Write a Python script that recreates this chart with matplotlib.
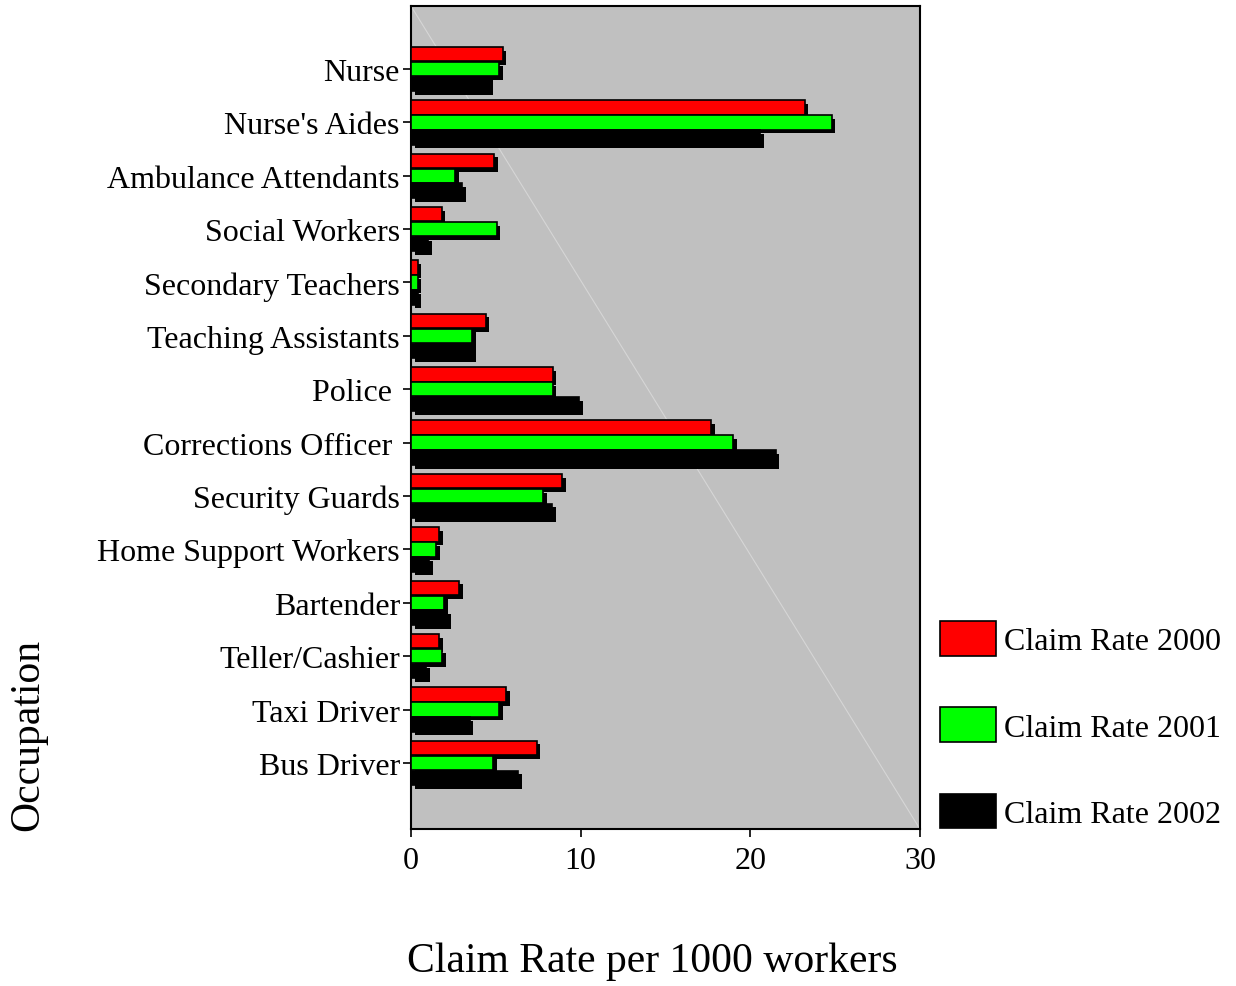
import numpy as np
import matplotlib
matplotlib.use('Agg')
from matplotlib import pyplot as plt
from matplotlib.patches import Rectangle

plt.rcParams['font.family'] = ['Liberation Serif', 'DejaVu Serif']

occupations = ['Nurse', "Nurse's Aides", 'Ambulance Attendants', 'Social Workers',
               'Secondary Teachers', 'Teaching Assistants', 'Police ',
               'Corrections Officer ', 'Security Guards', 'Home Support Workers',
               'Bartender', 'Teller/Cashier', 'Taxi Driver', 'Bus Driver']
rate_2000 = [5.4, 23.2, 4.9, 1.8, 0.4, 4.4, 8.35, 17.7, 8.9, 1.65, 2.85, 1.65, 5.6, 7.4]
rate_2001 = [5.2, 24.8, 2.6, 5.05, 0.4, 3.6, 8.35, 19.0, 7.8, 1.5, 1.95, 1.85, 5.2, 4.85]
rate_2002 = [4.6, 20.6, 3.0, 1.0, 0.4, 3.6, 9.9, 21.5, 8.3, 1.05, 2.15, 0.9, 3.45, 6.3]
series = [('Claim Rate 2000', rate_2000, '#ff0000'),
          ('Claim Rate 2001', rate_2001, '#00ff00'),
          ('Claim Rate 2002', rate_2002, '#000000')]

fig = plt.figure(figsize=(12.36, 9.87), dpi=100)
ax = fig.add_axes([0.3325, 0.159, 0.4118, 0.8339])
ax.set_facecolor('#c0c0c0')

y = np.arange(len(occupations))
h = 0.27
offsets = [-0.28, 0.0, 0.28]
sdx, sdy = 0.22, 0.07

for (name, vals, col), off in zip(series, offsets):
    # drop shadow first
    ax.barh(y + off + sdy, vals, height=h, left=sdx, color='black', zorder=2)
    ax.barh(y + off, vals, height=h, color=col, edgecolor='black', linewidth=1.2, zorder=3)

# faint diagonal artifact across the plot area
ax.plot([0, 1], [1, 0], transform=ax.transAxes, color='white', alpha=0.35, lw=0.8, zorder=1)

ax.set_xlim(0, 30)
ax.set_ylim(14.24, -1.18)
ax.set_xticks([0, 10, 20, 30])
ax.set_yticks(y)
ax.set_yticklabels(occupations)
ax.tick_params(axis='both', labelsize=23, width=1.2, length=6, direction='out')
ax.tick_params(axis='x', pad=6)
ax.tick_params(axis='y', pad=2)
for s in ax.spines.values():
    s.set_linewidth(1.5)

fig.text(0.528, 1 - 962 / 987, 'Claim Rate per 1000 workers', fontsize=30, ha='center', va='center')
fig.text(0.0227, 1 - 735 / 987, 'Occupation', fontsize=30, rotation=90, ha='center', va='center')

handles = [Rectangle((0, 0), 1, 1, facecolor=c, edgecolor='black', linewidth=1.2)
           for _, _, c in series]
fig.legend(handles, [n for n, _, _ in series], loc='center left',
           bbox_to_anchor=(940 / 1236, 1 - 726 / 987), bbox_transform=fig.transFigure,
           frameon=False, fontsize=23, borderpad=0, borderaxespad=0,
           handlelength=1.75, handleheight=1.3, labelspacing=1.6,
           handletextpad=0.25)

fig.savefig('out.png', dpi=100)
